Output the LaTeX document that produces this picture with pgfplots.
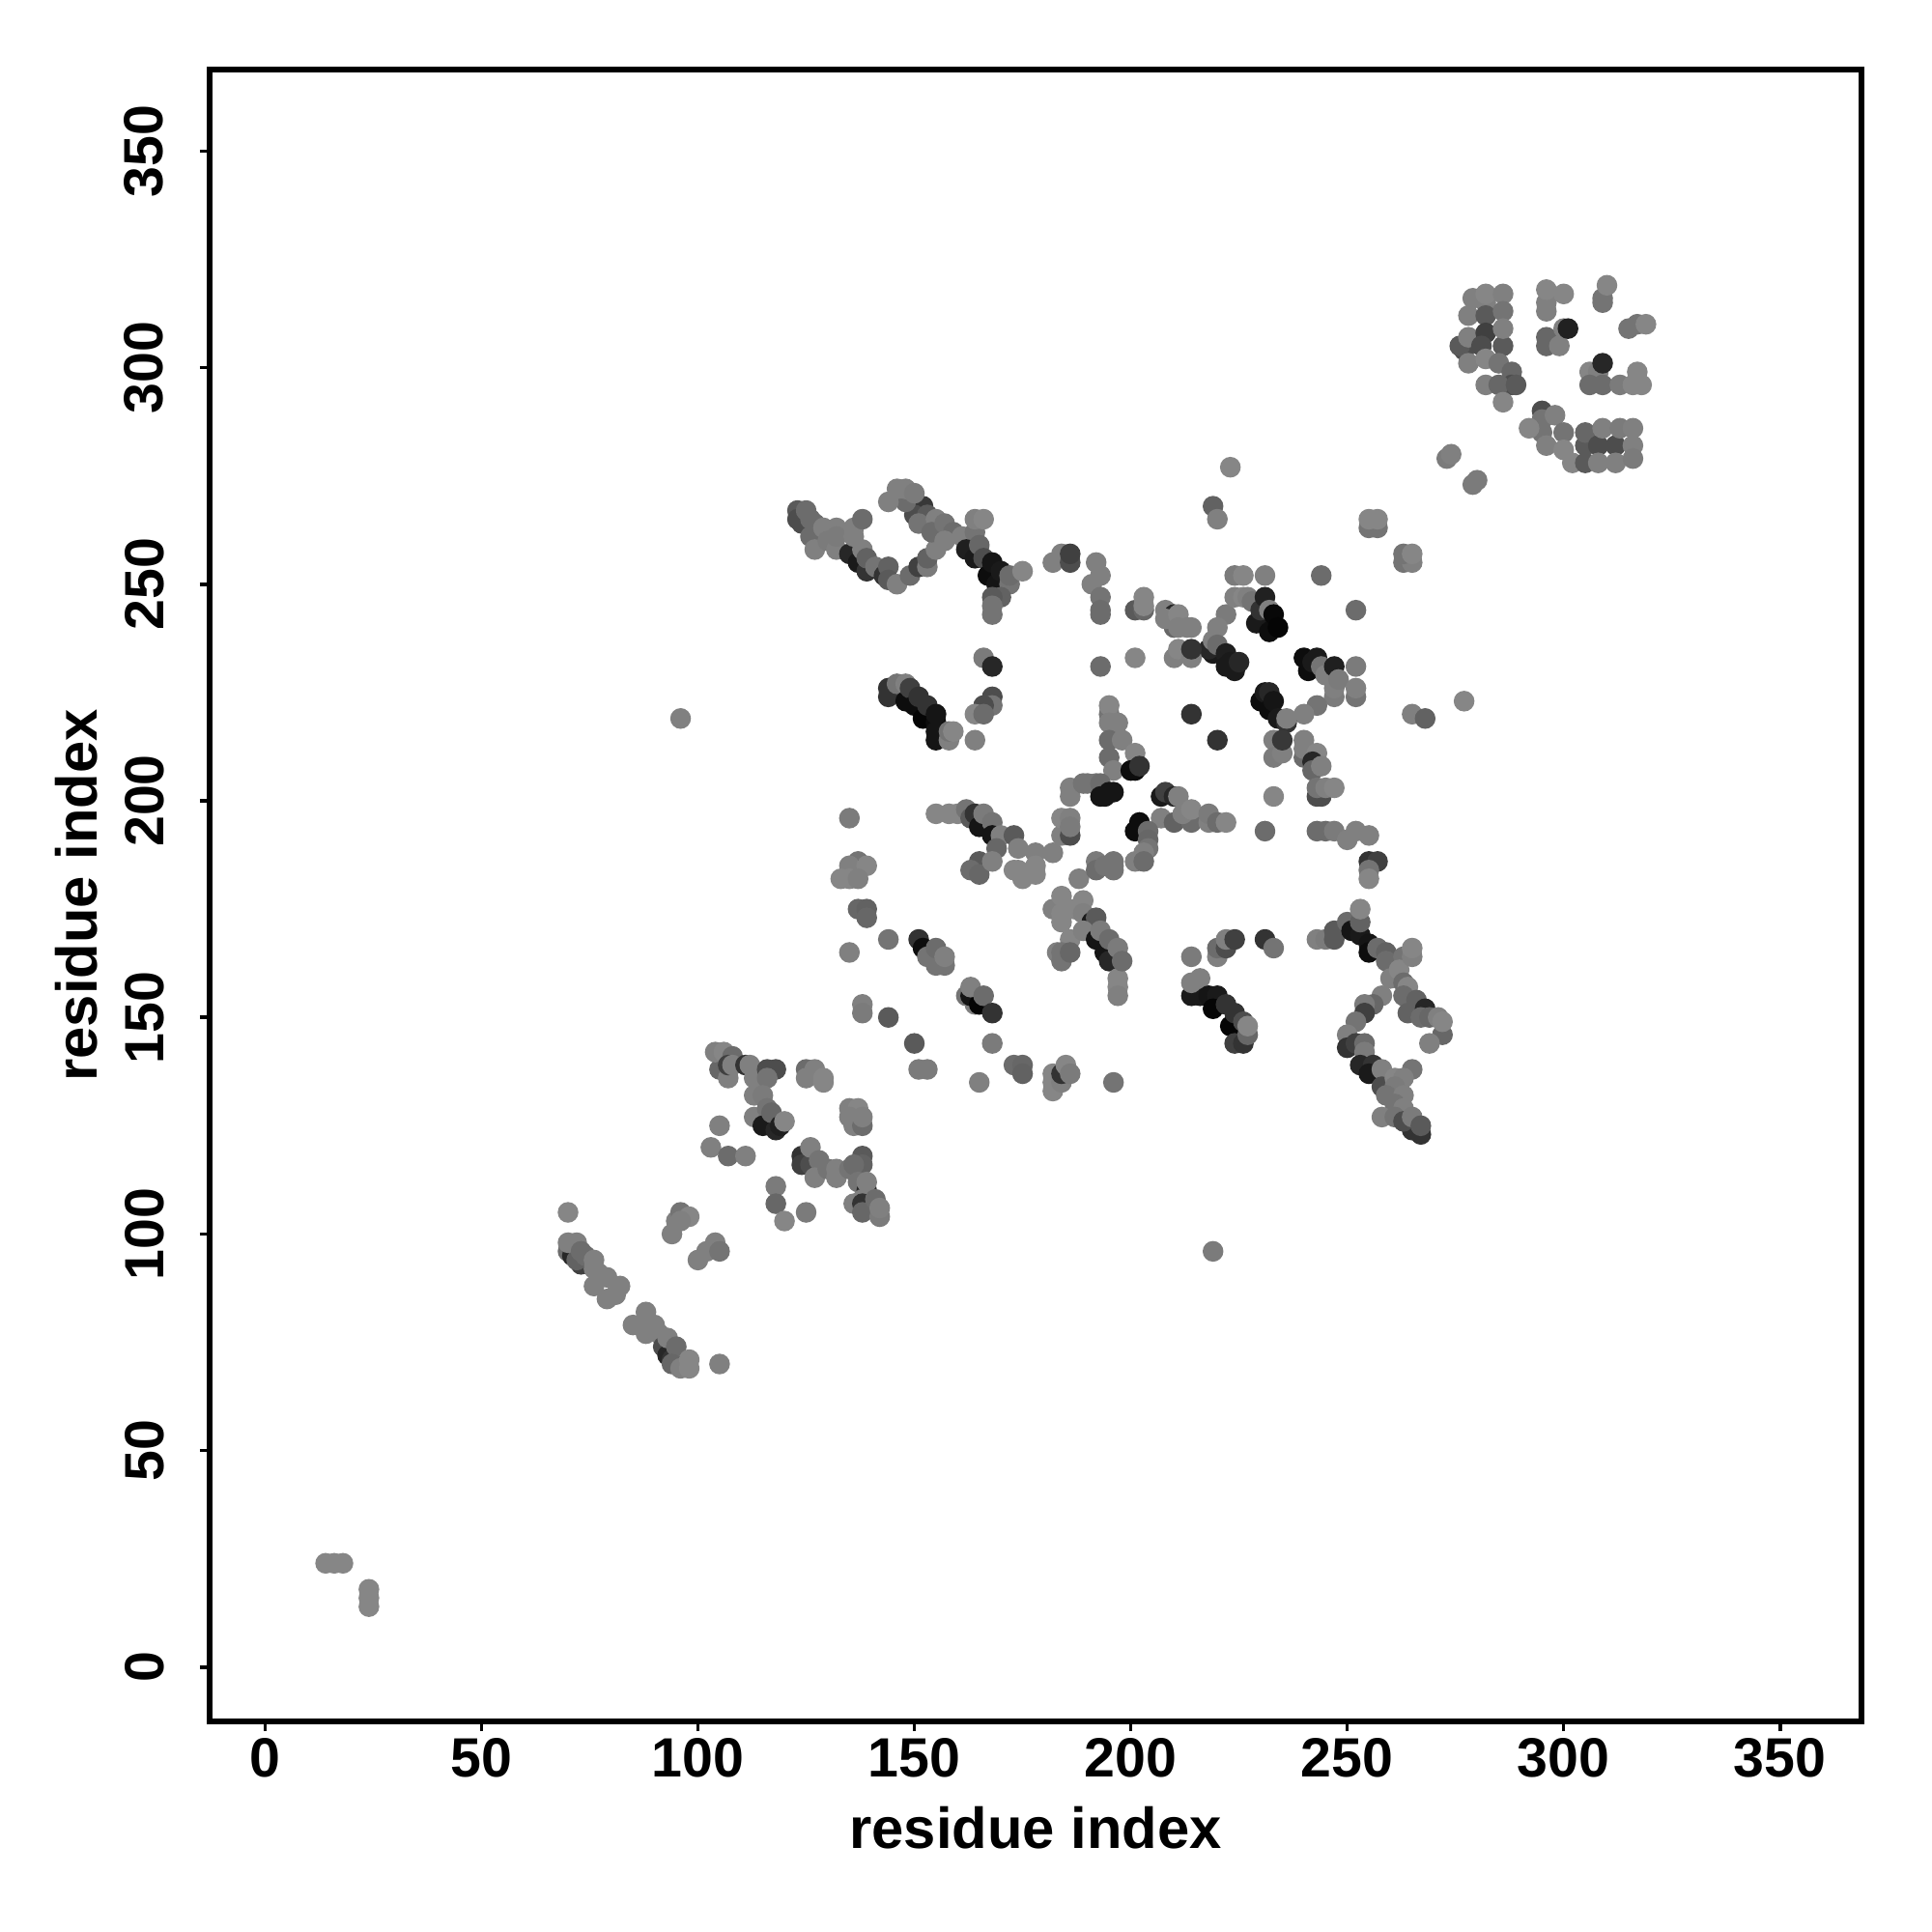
\documentclass[border=0pt]{standalone}
\usepackage{fontspec}
\setmainfont{Liberation Sans}
\usepackage{pgfplots}
\pgfplotsset{compat=1.18}
\begin{document}
\begin{tikzpicture}
\useasboundingbox (-2.17,-2.18) rectangle (17.83,17.82);
\begin{axis}[
 scale only axis, width=17.1cm, height=17.1cm,
 xmin=-12.8, xmax=368.8, ymin=-12.5, ymax=368.8,
 xtick={0,50,...,350}, ytick={0,50,...,350},
 xtick pos=bottom, ytick pos=left, tick align=outside,
 major tick length=0.1cm,
 axis line style={line width=0.055cm},
 every tick/.style={black,line width=0.035cm},
 /pgf/number format/assume math mode=true,
 /pgf/number format/1000 sep={},
 tick label style={font=\bfseries\fontsize{16.3}{18}\selectfont},
 xticklabel style={yshift=0.05cm},
 yticklabel style={rotate=90,anchor=south,yshift=0.25cm},
 label style={font=\bfseries\fontsize{17}{18}\selectfont},
 xlabel={residue index}, ylabel={residue index},
 xlabel style={at={(axis description cs:0.5,0)},anchor=center,yshift=-1.1cm},
 ylabel style={at={(axis description cs:0,0.5)},anchor=center,yshift=1.38cm},
 colormap={g}{gray(0cm)=(0); gray(1cm)=(1)},
 point meta min=0, point meta max=1,
]
\addplot[scatter, only marks, mark=*, mark size=2.85pt, point meta=explicit,
 scatter/use mapped color={draw=mapped color,fill=mapped color}]
 table[row sep=crcr, meta=g]{
x y g\\
14 24 .52\\ 16 24 .52\\ 18 24 .52\\ 24 18 .52\\ 24 16 .52\\ 24 14 .52\\
96 219 .5\\ 219 96 .48\\ 105 70 .5\\ 70 105 .52\\
70 96 .42\\ 71 95 .15\\ 73 95 .3\\ 73 93 .25\\ 72 94 .38\\ 70 98 .5\\ 72 98 .5\\ 74 95 .42\\ 73 96 .42\\
76 94 .5\\ 76 92 .5\\ 77 91 .5\\ 76 88 .5\\ 79 90 .5\\ 79 85 .5\\ 82 88 .5\\ 81 86 .5\\
88 82 .5\\ 85 79 .5\\ 88 79 .5\\ 90 79 .5\\ 88 77 .5\\ 91 77 .5\\ 92 74 .3\\ 93 72 .15\\ 94 71 .2\\ 95 70 .25\\ 93 76 .5\\ 95 74 .42\\ 94 70 .4\\ 96 69 .5\\ 98 71 .52\\ 98 69 .52\\
94 100 .5\\ 95 103 .5\\ 96 105 .45\\ 98 104 .52\\ 96 103 .5\\
100 94 .5\\ 102 96 .5\\ 104 98 .5\\ 105 96 .45\\
105 138 .4\\ 104 142 .5\\ 106 142 .52\\ 108 141 .42\\ 107 136 .5\\ 107 139 .25\\ 108 139 .5\\ 111 139 .2\\ 112 139 .5\\ 113 136 .5\\ 116 138 .3\\ 118 138 .3\\ 116 136 .45\\ 113 132 .5\\ 115 132 .48\\ 113 127 .5\\ 116 129 .45\\ 115 125 .1\\ 118 124 .15\\ 117 128 .4\\ 119 125 .12\\ 120 126 .52\\
125 138 .42\\ 125 136 .5\\ 127 138 .5\\ 129 136 .52\\ 129 135 .52\\
135 129 .5\\ 137 129 .52\\ 135 127 .5\\ 136 125 .5\\ 138 125 .42\\ 138 127 .5\\
105 125 .5\\ 103 120 .5\\ 107 118 .42\\ 111 118 .5\\
124 118 .2\\ 124 116 .25\\ 126 116 .3\\ 126 120 .5\\ 128 117 .45\\ 127 113 .5\\ 130 115 .45\\ 132 115 .5\\ 132 113 .5\\ 135 115 .45\\
138 118 .35\\ 138 116 .38\\ 136 116 .42\\ 137 112 .45\\ 139 110 .15\\ 139 112 .5\\ 138 108 .5\\ 136 107 .5\\ 138 107 .2\\ 138 105 .4\\ 141 108 .42\\ 142 104 .48\\ 142 106 .5\\
118 111 .48\\ 118 107 .4\\ 120 103 .52\\ 125 105 .48\\
135 196 .48\\ 137 186 .45\\ 137 184 .3\\ 135 185 .5\\ 139 185 .52\\ 133 182 .52\\ 135 182 .52\\ 137 182 .5\\
137 175 .4\\ 139 175 .38\\ 139 173 .4\\ 144 168 .45\\ 135 165 .5\\
138 153 .5\\ 138 151 .48\\ 144 150 .35\\ 150 144 .35\\ 168 144 .48\\ 151 138 .48\\ 153 138 .48\\
151 168 .2\\ 152 166 .05\\ 153 164 .45\\ 155 162 .45\\ 155 166 .42\\ 157 162 .45\\ 157 164 .5\\
162 155 .45\\ 164 153 .5\\ 163 155 .08\\ 165 153 .02\\ 163 157 .5\\ 166 155 .42\\ 168 151 .2\\
165 135 .5\\ 173 139 .42\\ 175 139 .4\\ 175 137 .38\\ 182 137 .52\\ 182 135 .52\\ 182 133 .52\\ 184 135 .5\\ 184 137 .2\\ 185 139 .52\\ 186 137 .48\\ 196 135 .45\\
123 267 .35\\ 123 265 .3\\ 124 264 .3\\ 125 267 .42\\ 126 265 .42\\ 127 264 .42\\ 126 261 .42\\ 127 258 .5\\ 129 263 .5\\ 132 263 .5\\ 130 260 .48\\ 132 258 .5\\ 132 261 .48\\ 135 257 .15\\ 136 261 .5\\ 136 263 .5\\ 138 265 .42\\ 137 255 .1\\ 138 258 .5\\ 139 253 .2\\ 139 256 .38\\ 141 254 .45\\ 143 252 .2\\ 144 254 .38\\ 144 251 .35\\ 146 250 .5\\
149 252 .42\\ 151 254 .25\\ 153 254 .48\\ 153 256 .38\\ 155 258 .5\\
152 268 .22\\ 150 266 .3\\ 148 269 .42\\ 144 269 .5\\ 146 272 .5\\ 148 272 .5\\ 150 271 .48\\ 153 266 .35\\ 151 264 .45\\ 155 265 .5\\ 154 262 .42\\ 157 264 .45\\ 159 262 .42\\ 157 260 .5\\ 161 261 .5\\ 164 262 .45\\ 164 265 .5\\ 166 265 .52\\
162 258 .12\\ 164 256 .1\\ 165 259 .4\\ 166 256 .3\\ 167 252 .05\\ 168 255 .08\\ 169 250 .08\\ 170 253 .1\\ 172 250 .45\\ 172 252 .42\\ 175 253 .52\\
170 247 .38\\ 168 247 .35\\ 168 245 .45\\ 168 243 .45\\
182 255 .5\\ 184 257 .5\\ 186 255 .3\\ 186 257 .25\\
166 233 .48\\ 168 231 .15\\ 168 224 .3\\ 168 222 .45\\ 166 222 .3\\ 164 220 .52\\ 166 220 .42\\ 164 214 .5\\
144 226 .2\\ 144 224 .2\\ 146 227 .45\\ 148 223 .05\\ 148 227 .5\\ 149 226 .25\\ 150 222 .05\\ 151 224 .2\\ 152 219 .02\\ 153 222 .2\\ 155 218 .05\\ 155 220 .08\\ 155 216 .08\\ 155 214 .08\\ 158 214 .5\\ 158 216 .45\\ 159 216 .52\\
192 255 .5\\ 193 252 .5\\ 191 250 .5\\ 193 247 .45\\ 193 244 .42\\ 193 243 .42\\
201 244 .35\\ 203 244 .4\\ 203 247 .52\\ 203 245 .52\\
208 244 .5\\ 210 240 .4\\ 210 243 .15\\ 208 242 .5\\ 211 243 .52\\ 211 240 .5\\ 213 240 .5\\ 214 240 .5\\
224 252 .48\\ 226 252 .52\\ 231 252 .5\\ 244 252 .42\\ 252 244 .42\\
222 243 .48\\ 220 240 .5\\ 219 234 .1\\ 218 235 .15\\ 219 237 .5\\ 220 236 .42\\ 222 234 .12\\ 222 231 .1\\ 224 230 .1\\ 223 232 .1\\ 225 232 .15\\
224 247 .5\\ 226 247 .52\\ 227 247 .5\\ 228 246 .45\\ 229 241 .1\\ 230 244 .2\\ 231 247 .13\\ 232 244 .5\\ 232 239 .05\\ 233 243 .03\\ 234 240 .02\\
201 233 .52\\ 193 231 .42\\ 210 233 .5\\ 211 235 .52\\ 214 233 .5\\ 214 235 .2\\
240 233 .05\\ 241 230 .05\\ 242 232 .1\\ 243 233 .1\\ 244 231 .45\\ 245 229 .5\\ 247 231 .12\\ 247 224 .48\\ 247 226 .5\\ 248 228 .48\\
252 231 .48\\ 252 224 .45\\ 252 226 .5\\ 243 222 .45\\ 240 220 .5\\
230 223 .05\\ 231 225 .1\\ 232 225 .15\\ 232 221 .05\\ 233 223 .08\\ 234 219 .1\\ 236 218 .2\\ 236 219 .5\\
233 214 .5\\ 233 210 .48\\ 235 211 .5\\ 235 214 .22\\ 214 220 .2\\ 220 214 .2\\
265 220 .5\\ 268 219 .38\\ 277 223 .52\\
240 214 .5\\ 240 210 .42\\ 240 212 .5\\ 243 211 .52\\ 242 209 .15\\ 242 207 .4\\ 244 208 .5\\
195 220 .45\\ 195 222 .52\\ 195 218 .5\\ 197 218 .5\\ 195 214 .42\\ 198 214 .5\\ 195 210 .42\\ 196 207 .5\\ 201 211 .52\\ 200 207 .05\\ 201 207 .05\\ 202 208 .2\\
186 203 .5\\ 186 201 .5\\ 189 204 .45\\ 190 204 .45\\ 192 204 .45\\ 193 204 .42\\ 193 201 .08\\ 194 201 .08\\ 196 202 .08\\ 195 202 .08\\
207 201 .1\\ 208 202 .25\\ 210 201 .15\\ 211 201 .5\\ 207 196 .5\\ 210 195 .38\\ 214 195 .42\\ 212 197 .5\\ 214 198 .52\\ 218 195 .5\\ 218 197 .48\\ 220 195 .42\\ 222 195 .52\\
201 193 .05\\ 202 195 .05\\ 204 193 .42\\ 204 191 .4\\ 204 189 .45\\ 203 188 .5\\ 201 186 .5\\ 203 186 .42\\
233 201 .52\\ 231 193 .42\\ 243 201 .3\\ 244 201 .3\\ 243 203 .45\\ 245 203 .5\\ 247 203 .52\\
243 193 .42\\ 245 193 .42\\ 247 193 .48\\ 250 191 .5\\ 252 193 .5\\ 255 192 .5\\
255 186 .2\\ 257 186 .25\\ 255 184 .45\\ 255 182 .52\\
155 197 .52\\ 158 197 .52\\ 160 197 .52\\ 162 198 .45\\ 163 196 .35\\ 164 197 .2\\ 165 194 .08\\ 166 197 .48\\ 168 195 .45\\ 168 192 .08\\ 170 192 .5\\ 169 189 .4\\ 173 192 .35\\ 174 189 .5\\ 178 188 .5\\
173 184 .52\\ 174 184 .52\\ 175 182 .52\\ 178 185 .52\\ 178 183 .52\\
182 188 .5\\ 184 192 .5\\ 186 192 .3\\ 184 196 .52\\ 186 196 .5\\ 186 194 .48\\
165 186 .35\\ 163 184 .42\\ 165 183 .4\\ 168 186 .5\\
188 182 .5\\ 192 186 .48\\ 192 184 .42\\ 194 185 .45\\ 196 186 .45\\ 196 184 .45\\ 196 185 .45\\
182 175 .5\\ 184 178 .52\\ 184 174 .52\\ 184 172 .52\\ 187 175 .52\\ 189 177 .52\\ 189 174 .5\\ 186 168 .52\\ 183 165 .5\\ 184 163 .45\\ 184 165 .45\\ 186 165 .4\\
191 172 .1\\ 192 173 .35\\ 189 170 .5\\ 192 168 .08\\ 193 170 .48\\ 194 165 .08\\ 195 168 .42\\ 195 163 .15\\ 197 166 .48\\ 197 159 .52\\ 197 157 .52\\ 197 155 .5\\ 198 163 .42\\
214 164 .48\\ 220 164 .5\\ 220 166 .42\\ 222 166 .3\\ 222 168 .5\\ 224 168 .25\\ 231 168 .2\\ 233 166 .45\\
214 155 .1\\ 216 155 .1\\ 214 158 .5\\ 216 159 .5\\ 218 155 .08\\ 220 155 .1\\ 219 152 .02\\ 222 153 .2\\ 223 148 .02\\ 224 151 .2\\ 224 144 .25\\ 226 144 .2\\ 226 149 .3\\ 227 146 .4\\ 227 148 .52\\
243 168 .5\\ 245 168 .48\\ 247 168 .35\\ 247 170 .35\\ 250 172 .42\\ 251 170 .08\\ 253 169 .1\\ 253 172 .38\\ 253 175 .52\\ 255 167 .08\\ 255 165 .05\\ 257 166 .42\\ 259 165 .38\\ 259 163 .42\\ 260 159 .5\\
263 164 .45\\ 262 161 .52\\ 265 164 .5\\ 265 166 .52\\ 263 158 .42\\ 264 157 .52\\ 263 155 .42\\ 264 151 .38\\ 266 154 .38\\ 268 152 .15\\ 267 150 .42\\ 269 150 .4\\ 271 150 .5\\ 272 146 .4\\ 269 144 .5\\ 272 149 .52\\
258 155 .5\\ 256 153 .4\\ 254 153 .48\\ 254 151 .25\\ 252 149 .45\\ 250 146 .5\\
250 143 .2\\ 252 144 .25\\ 254 144 .42\\ 254 142 .48\\ 253 139 .15\\ 256 139 .2\\ 255 137 .1\\ 258 138 .5\\ 265 138 .45\\ 258 134 .3\\ 261 136 .52\\ 263 136 .5\\ 261 134 .48\\ 259 132 .45\\ 263 132 .5\\ 261 130 .45\\ 258 127 .5\\ 263 129 .5\\ 261 127 .45\\ 265 124 .2\\ 263 126 .3\\ 265 127 .48\\ 267 123 .2\\ 267 125 .35\\
273 279 .48\\ 274 280 .5\\ 279 273 .48\\ 280 274 .48\\
223 277 .52\\ 219 268 .38\\ 220 265 .5\\
255 263 .45\\ 257 263 .45\\ 255 265 .52\\ 257 265 .52\\
263 255 .45\\ 265 255 .5\\ 263 257 .45\\ 265 257 .52\\
277 304 .3\\ 276 305 .35\\ 278 301 .5\\ 278 307 .5\\ 278 312 .5\\ 279 316 .5\\ 282 315 .5\\ 282 317 .52\\ 282 312 .35\\ 282 308 .25\\ 281 305 .3\\ 286 317 .5\\ 286 313 .45\\ 286 305 .35\\ 286 309 .5\\ 282 302 .52\\ 285 301 .45\\ 282 296 .5\\ 288 299 .4\\ 288 296 .3\\ 285 296 .4\\ 289 296 .35\\ 286 292 .52\\
296 307 .4\\ 296 305 .4\\ 299 305 .5\\ 300 309 .5\\ 296 313 .5\\ 296 315 .5\\ 296 318 .52\\ 300 317 .52\\ 301 309 .13\\
309 315 .45\\ 309 316 .45\\ 310 319 .52\\ 315 309 .45\\ 317 310 .45\\ 319 310 .52\\
306 299 .52\\ 308 299 .5\\ 309 301 .15\\ 306 296 .42\\ 309 296 .42\\ 313 296 .48\\ 316 296 .52\\ 318 296 .52\\ 317 299 .52\\
295 290 .3\\ 295 288 .45\\ 295 285 .45\\ 292 286 .52\\ 298 289 .5\\ 300 285 .45\\ 296 282 .5\\ 300 281 .52\\ 302 278 .52\\
305 278 .35\\ 305 282 .35\\ 305 285 .4\\ 308 282 .3\\ 312 282 .3\\ 316 282 .5\\ 309 286 .5\\ 313 286 .48\\ 316 286 .5\\ 308 278 .5\\ 312 278 .5\\ 316 279 .48\\
};
\end{axis}
\end{tikzpicture}
\end{document}
